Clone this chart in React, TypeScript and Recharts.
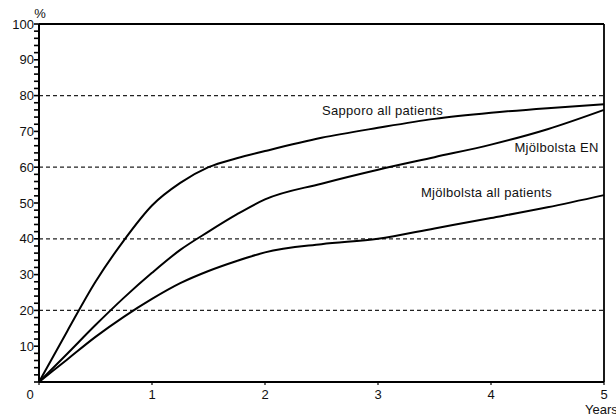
import React from 'react';
import { LineChart, Line, XAxis, YAxis, ReferenceLine, ReferenceDot } from 'recharts';

const years = [0, 0.25, 0.5, 0.75, 1, 1.25, 1.5, 1.75, 2, 2.5, 3, 3.5, 4, 4.5, 5];
const sapporoAll = [0, 14.2, 28, 39.5, 49.3, 55.6, 60, 62.5, 64.5, 68.2, 71, 73.5, 75.2, 76.5, 77.6];
const mjolbolstaEN = [0, 7.9, 15.9, 23.5, 30.5, 36.9, 42, 46.8, 51, 55.4, 59.3, 62.8, 66.3, 70.6, 76];
const mjolbolstaAll = [0, 6.3, 12.6, 18.2, 23.2, 27.6, 31, 33.8, 36.2, 38.5, 40, 42.9, 45.8, 48.8, 52.2];

const xTicks = [0, 1, 2, 3, 4, 5];
const yTicks = [0, 2, 4, 6, 8, 10, 12, 14, 16, 18, 20, 22, 24, 26, 28, 30, 32, 34, 36, 38, 40, 42, 44, 46, 48, 50,
  52, 54, 56, 58, 60, 62, 64, 66, 68, 70, 72, 74, 76, 78, 80, 82, 84, 86, 88, 90, 92, 94, 96, 98, 100];
const gridValues = [20, 40, 60, 80];

const seriesLabels = [
  { text: 'Sapporo all patients', x: 3.04, y: 75.7 },
  { text: 'Mjölbolsta EN', x: 4.58, y: 65.5 },
  { text: 'Mjölbolsta all patients', x: 3.96, y: 53 },
];

const data = years.map((t, i) => ({
  t,
  sapporo: sapporoAll[i],
  en: mjolbolstaEN[i],
  all: mjolbolstaAll[i],
}));

const FONT = '"Liberation Sans", Arial, Helvetica, sans-serif';

const YTick = (props: any) => {
  const { x, y, payload } = props;
  const v = payload.value;
  if (v % 10 !== 0 || v === 0) return <g />;
  return (
    <text x={x} y={y} dy={4.6} textAnchor="end" fontFamily={FONT} fontSize={13} fill="#111">
      {v}
    </text>
  );
};

const XTick = (props: any) => {
  const { x, y, payload } = props;
  const v = payload.value;
  return (
    <text x={v === 0 ? x - 9 : x} y={y} dy={12} textAnchor="middle" fontFamily={FONT} fontSize={13} fill="#111">
      {v}
    </text>
  );
};

const makeLabel = (text: string) => (props: any) => {
  const vb = props.viewBox || {};
  const cx = (vb.x ?? 0) + (vb.width ?? 0) / 2;
  const cy = (vb.y ?? 0) + (vb.height ?? 0) / 2;
  return (
    <text x={cx} y={cy} dy={4.5} textAnchor="middle" fontFamily={FONT} fontSize={13} letterSpacing={0.3} fill="#111">
      {text}
    </text>
  );
};

const YearsLabel = (props: any) => {
  const vb = props.viewBox || {};
  return (
    <text x={(vb.x ?? 0) + (vb.width ?? 0) - 19} y={414} fontFamily={FONT} fontSize={13} fill="#111">
      Years
    </text>
  );
};

const PercentLabel = (props: any) => {
  return (
    <text x={40} y={17.5} textAnchor="middle" fontFamily={FONT} fontSize={13} fill="#111">
      %
    </text>
  );
};

export default function App() {
  return (
    <div style={{ position: 'absolute', left: 0, top: 0, width: 616, height: 415, background: '#fff' }}>
      <LineChart width={616} height={415} data={data} margin={{ top: 24, right: 12, left: 0, bottom: 0 }}>
        {gridValues.map((g) => (
          <ReferenceLine key={g} y={g} stroke="#222" strokeWidth={1.2} strokeDasharray="4 3" />
        ))}
        <ReferenceLine y={100} stroke="#000" strokeWidth={1.8} />
        <ReferenceLine x={5} stroke="#000" strokeWidth={1.8} />
        <XAxis
          dataKey="t"
          type="number"
          domain={[0, 5]}
          ticks={xTicks}
          height={33}
          tick={<XTick />}
          tickSize={3}
          tickMargin={2}
          axisLine={{ stroke: '#000', strokeWidth: 2 }}
          tickLine={{ stroke: '#000', strokeWidth: 1.2 }}
          label={<YearsLabel />}
        />
        <YAxis
          type="number"
          domain={[0, 100]}
          ticks={yTicks}
          interval={0}
          width={39}
          tick={<YTick />}
          tickSize={5}
          tickMargin={0}
          axisLine={{ stroke: '#000', strokeWidth: 2 }}
          tickLine={{ stroke: '#000', strokeWidth: 1.6 }}
          label={<PercentLabel />}
        />
        <Line type="monotone" dataKey="sapporo" stroke="#000" strokeWidth={2} dot={false} isAnimationActive={false} />
        <Line type="monotone" dataKey="en" stroke="#000" strokeWidth={2} dot={false} isAnimationActive={false} />
        <Line type="monotone" dataKey="all" stroke="#000" strokeWidth={2} dot={false} isAnimationActive={false} />
        {seriesLabels.map((l) => (
          <ReferenceDot key={l.text} x={l.x} y={l.y} r={1} fill="none" stroke="none" label={makeLabel(l.text)} />
        ))}
      </LineChart>
    </div>
  );
}
